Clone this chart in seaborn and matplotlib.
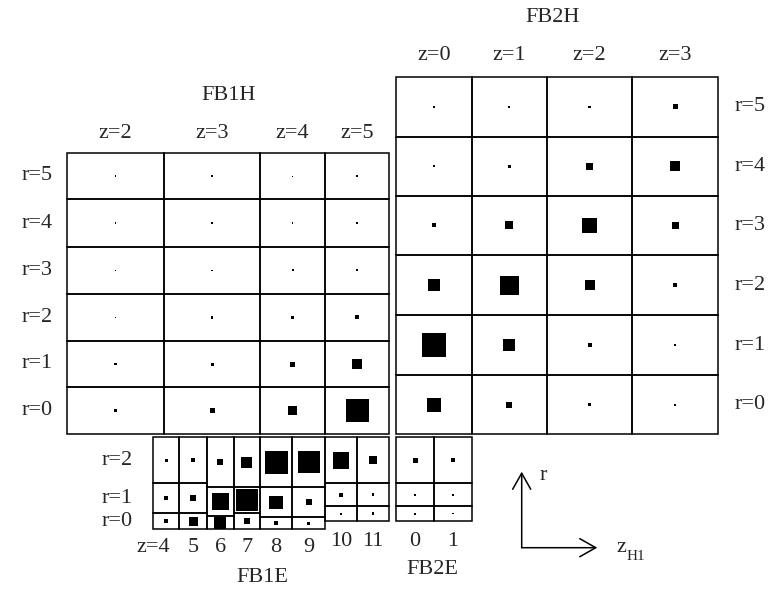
import numpy as np
import pandas as pd
import matplotlib
matplotlib.use("Agg")
import matplotlib.pyplot as plt
import seaborn as sns
from matplotlib.patches import Rectangle

# ----- Data: side length of each black square, rows are r = 0, 1, 2, ... -----
fb1h_z = [2, 3, 4, 5]
fb1h_sq = [
    [2.7, 5.0, 9.0, 23.0],   # r=0
    [2.2, 3.0, 5.0, 10.0],   # r=1
    [1.5, 2.3, 2.7, 4.0],    # r=2
    [1.4, 1.5, 2.0, 2.2],    # r=3
    [1.4, 1.4, 1.6, 2.1],    # r=4
    [1.2, 1.2, 1.0, 1.9],    # r=5
]

fb2h_z = [0, 1, 2, 3]
fb2h_sq = [
    [14.0, 6.0, 3.0, 2.0],
    [24.0, 12.0, 4.0, 2.0],
    [12.0, 19.0, 10.0, 4.0],
    [4.0, 8.0, 15.0, 7.0],
    [2.0, 3.3, 6.7, 10.0],
    [1.7, 1.7, 2.3, 5.0],
]

fb1e_z = [4, 5, 6, 7, 8, 9, 10, 11]
fb1e_sq = [
    [3.5, 9.0, 12.0, 5.7, 4.0, 2.7, 2.0, 2.5],
    [4.0, 6.0, 17.0, 22.0, 13.5, 6.0, 4.0, 2.7],
    [3.0, 4.0, 6.0, 11.0, 23.0, 22.0, 16.5, 8.0],
]

fb2e_z = [0, 1]
fb2e_sq = [
    [2.0, 1.7],
    [2.0, 2.0],
    [5.0, 4.0],
]

# ----- Layout (pixel canvas) -----
fb1h_x = [67.3, 163.7, 260.3, 325, 389.3]
fb1h_y = [152.7, 199.3, 246.7, 294, 340.7, 387.3, 434.3]
fb2h_x = [396, 471.7, 546.7, 632.3, 718.3]
fb2h_y = [76.7, 136.7, 195.7, 255, 315, 375, 434]
fb1e_x = [152.7, 179.3, 206.7, 233.7, 260, 292, 325, 356.7, 389.3]
fb1e_y = [
    [437.3, 483.3, 513.3, 529],
    [437.3, 483.3, 513.3, 529],
    [437.3, 486.7, 516, 529],
    [437.3, 486.7, 513.3, 529],
    [437.3, 487.3, 517.3, 529],
    [437.3, 487.3, 517.3, 529],
    [437.3, 483.3, 506, 521],
    [437.3, 483.3, 506, 521],
]
fb2e_x = [396, 434.3, 472]
fb2e_y = [[437.3, 483.3, 506, 521]] * 2

LW = 1.1
FS = 16

sns.set_style("white")
plt.rcParams["font.family"] = ["Liberation Serif", "DejaVu Serif"]

fig = plt.figure(figsize=(7.71, 5.89), dpi=100)
ax = fig.add_axes([0, 0, 1, 1])

records = []


def add_block(x_edges, y_cols, sizes):
    n_r = len(sizes)
    for c in range(len(x_edges) - 1):
        ye = y_cols[c]
        for i in range(n_r):
            k = n_r - 1 - i
            x0, x1 = x_edges[c], x_edges[c + 1]
            y0, y1 = ye[k], ye[k + 1]
            ax.add_patch(Rectangle((x0, y0), x1 - x0, y1 - y0, fill=False,
                                   lw=LW, ec="black", zorder=1))
            records.append(dict(x=(x0 + x1) / 2, y=(y0 + y1) / 2,
                                area=sizes[i][c] ** 2))


add_block(fb1h_x, [fb1h_y] * len(fb1h_z), fb1h_sq)
add_block(fb2h_x, [fb2h_y] * len(fb2h_z), fb2h_sq)
add_block(fb1e_x, fb1e_y, fb1e_sq)
add_block(fb2e_x, fb2e_y, fb2e_sq)

df = pd.DataFrame(records)
max_area = df["area"].max()
px2pt = 72 / 100
sns.scatterplot(data=df, x="x", y="y", size="area",
                sizes=(0, max_area * px2pt ** 2), size_norm=(0, max_area),
                marker="s", color="black", linewidth=0, legend=False,
                ax=ax, zorder=2)

ax.set_xlim(0, 771)
ax.set_ylim(589, 0)
ax.axis("off")

# ----- Labels -----
def centers(e):
    return [(a + b) / 2 for a, b in zip(e[:-1], e[1:])]


ax.text(229, 95, "FB1H", ha="center", va="center", fontsize=FS)
for xc, z in zip(centers(fb1h_x), fb1h_z):
    ax.text(xc, 133, f"z={z}", ha="center", va="center", fontsize=FS)
for yc, r in zip(centers(fb1h_y), range(len(fb1h_sq) - 1, -1, -1)):
    ax.text(37, yc, f"r={r}", ha="center", va="center", fontsize=FS)

ax.text(553, 18, "FB2H", ha="center", va="center", fontsize=FS)
for xc, z in zip(centers(fb2h_x), fb2h_z):
    ax.text(xc, 55, f"z={z}", ha="center", va="center", fontsize=FS)
for yc, r in zip(centers(fb2h_y), range(len(fb2h_sq) - 1, -1, -1)):
    ax.text(750, yc, f"r={r}", ha="center", va="center", fontsize=FS)

for yc, r in zip(centers(fb1e_y[0]), range(len(fb1e_sq) - 1, -1, -1)):
    ax.text(117, yc, f"r={r}", ha="center", va="center", fontsize=FS)
for i, (xc, z) in enumerate(zip(centers(fb1e_x), fb1e_z)):
    yl = 548 if z < 10 else 541
    if i == 0:
        ax.text(xc + 4, yl, f"z={z}", ha="right", va="center", fontsize=FS)
    else:
        ax.text(xc, yl, f"{z}", ha="center", va="center", fontsize=FS)
for xc, z in zip(centers(fb2e_x), fb2e_z):
    ax.text(xc, 541, f"{z}", ha="center", va="center", fontsize=FS)
ax.text(262, 577, "FB1E", ha="center", va="center", fontsize=FS)
ax.text(432, 570, "FB2E", ha="center", va="center", fontsize=FS)

# ----- Axis arrows -----
arrow = dict(arrowstyle="->,head_length=1.15,head_width=0.65", lw=LW,
             color="black", shrinkA=0, shrinkB=0, mutation_scale=10)
ax.annotate("", xy=(521.7, 471.7), xytext=(521.7, 547.7), arrowprops=arrow)
ax.annotate("", xy=(597.3, 547.7), xytext=(521.7, 547.7), arrowprops=arrow)
ax.text(543, 475, "r", ha="center", va="center", fontsize=FS)
ax.text(621.5, 548, "z", ha="center", va="center", fontsize=FS)
ax.text(627, 557, "H1", ha="left", va="center", fontsize=11)

fig.savefig("out.png", dpi=100)
